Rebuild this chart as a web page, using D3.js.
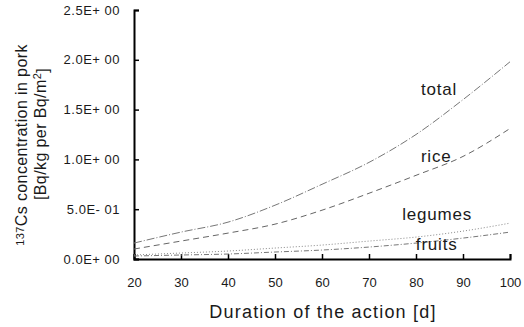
<!DOCTYPE html>
<html>
<head>
<meta charset="utf-8">
<script src="https://cdn.jsdelivr.net/npm/d3@7"></script>
<style>
  body { margin: 0; background: #fff; }
  text { font-family: "Liberation Sans", Arial, sans-serif; fill: #1a1a1a; }
</style>
</head>
<body>
<div id="chart"></div>
<script>
// jours de l'action
var days = [20, 30, 40, 50, 60, 70, 80, 90, 100];
// concentrations (Bq/kg per Bq/m2)
var total   = [0.16, 0.27, 0.37, 0.54, 0.75, 0.97, 1.25, 1.60, 1.98];
var rice    = [0.10, 0.18, 0.26, 0.35, 0.49, 0.66, 0.84, 1.03, 1.31];
var legumes = [0.04, 0.06, 0.08, 0.11, 0.14, 0.18, 0.22, 0.28, 0.36];
var fruits  = [0.03, 0.04, 0.05, 0.07, 0.09, 0.12, 0.16, 0.21, 0.27];
var yTicks = [0, 0.5, 1.0, 1.5, 2.0, 2.5];
var yTickLabels = ["0.0E+ 00", "5.0E- 01", "1.0E+ 00", "1.5E+ 00", "2.0E+ 00", "2.5E+ 00"];
var xTicks = [20, 30, 40, 50, 60, 70, 80, 90, 100];

var W = 524, H = 327;
var x0 = 134, x1 = 510, y0 = 259, y1 = 10;

var svg = d3.select('#chart').append('svg').attr('width', W).attr('height', H);

var x = d3.scaleLinear().domain([20, 100]).range([x0, x1]);
var y = d3.scaleLinear().domain([0, 2.5]).range([y0, y1]);

/* axes */
var yAxis = d3.axisLeft(y).tickValues(yTicks).tickSize(-5).tickPadding(14)
  .tickFormat(function(d, i){ return yTickLabels[i]; });
var gy = svg.append('g').attr('transform', 'translate(' + x0 + ',0)').call(yAxis);
gy.select('.domain').attr('stroke', '#000').attr('stroke-width', 2);
gy.selectAll('.tick line').attr('stroke', '#000').attr('stroke-width', 1.5);
gy.selectAll('.tick text').style('font-size', '13px').style('letter-spacing', '0.5px').attr('fill', '#1a1a1a');

var xAxis = d3.axisBottom(x).tickValues(xTicks).tickSize(-5).tickPadding(19).tickFormat(d3.format('d'));
var gx = svg.append('g').attr('transform', 'translate(0,' + y0 + ')').call(xAxis);
gx.select('.domain').attr('stroke', '#000').attr('stroke-width', 2);
gx.selectAll('.tick line').attr('stroke', '#000').attr('stroke-width', 1.5);
gx.selectAll('.tick text').style('font-size', '13px').attr('fill', '#1a1a1a');

/* courbes */
var series = [
  { name: 'total',   values: total,   dash: '8,2,1,2', color: '#777' },
  { name: 'rice',    values: rice,    dash: '6,4',     color: '#666' },
  { name: 'legumes', values: legumes, dash: '1,2',     color: '#888' },
  { name: 'fruits',  values: fruits,  dash: '5,2,1,2', color: '#777' }
];
var line = d3.line().curve(d3.curveMonotoneX)
  .x(function(d){ return x(d[0]); })
  .y(function(d){ return y(d[1]); });

series.forEach(function(s){
  svg.append('path')
    .datum(days.map(function(d, i){ return [d, s.values[i]]; }))
    .attr('d', line)
    .attr('fill', 'none')
    .attr('stroke', s.color)
    .attr('stroke-width', 1)
    .attr('stroke-dasharray', s.dash);
});

/* etiquettes des courbes */
var labels = [
  { text: 'total',   day: 84.9, v: 1.65 },
  { text: 'rice',    day: 84.3, v: 0.97 },
  { text: 'legumes', day: 84.5, v: 0.39 },
  { text: 'fruits',  day: 84.4, v: 0.09 }
];
svg.selectAll('.lbl').data(labels).enter().append('text')
  .attr('class', 'lbl')
  .attr('x', function(d){ return x(d.day); })
  .attr('y', function(d){ return y(d.v); })
  .attr('text-anchor', 'middle')
  .style('font-size', '17px')
  .style('letter-spacing', '0.8px')
  .text(function(d){ return d.text; });

/* titres des axes */
svg.append('text')
  .attr('x', 323).attr('y', 318)
  .attr('text-anchor', 'middle')
  .style('font-size', '18px').style('letter-spacing', '1.2px')
  .text('Duration of the action [d]');

var yt = svg.append('text')
  .attr('transform', 'translate(26,145) rotate(-90)')
  .attr('text-anchor', 'middle')
  .style('font-size', '16px').style('letter-spacing', '0.4px');
yt.append('tspan').attr('dy', '-0.15em').style('font-size', '11px').text('137');
yt.append('tspan').attr('dy', '0.15em').text('Cs concentration in pork');

var yt2 = svg.append('text')
  .attr('transform', 'translate(46,134) rotate(-90)')
  .attr('text-anchor', 'middle')
  .style('font-size', '16px').style('letter-spacing', '0.4px');
yt2.append('tspan').text('[Bq/kg per Bq/m');
yt2.append('tspan').attr('dy', '-0.45em').style('font-size', '11px').text('2');
yt2.append('tspan').attr('dy', '0.45em').text(']');
</script>
</body>
</html>
